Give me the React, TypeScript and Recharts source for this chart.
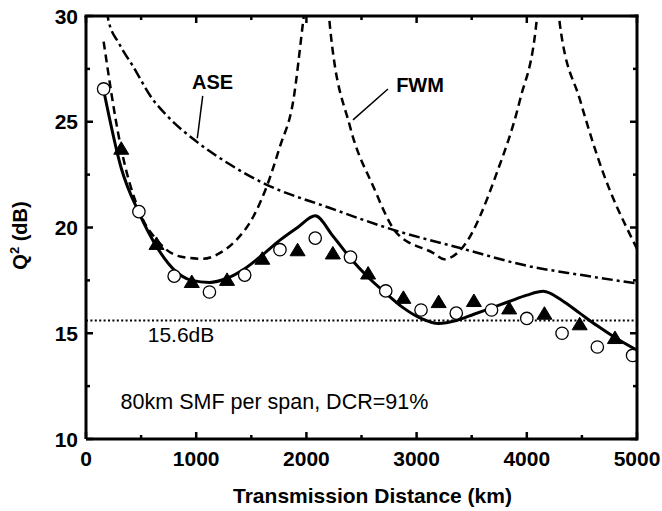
import React from "react";
import {
  ComposedChart,
  Line,
  XAxis,
  YAxis,
  ReferenceLine,
  ReferenceDot,
} from "recharts";

// ---- data ----
const circleX = [160, 480, 800, 1120, 1440, 1760, 2080, 2400, 2720, 3040, 3360, 3680, 4000, 4320, 4640, 4960];
const circleY = [26.55, 20.75, 17.7, 16.95, 17.75, 18.95, 19.5, 18.6, 17.0, 16.1, 15.95, 16.1, 15.7, 15.0, 14.35, 13.95];

const triX = [320, 640, 960, 1280, 1600, 1920, 2240, 2560, 2880, 3200, 3520, 3840, 4160, 4480, 4800];
const triY = [23.7, 19.2, 17.4, 17.5, 18.5, 18.9, 18.75, 17.8, 16.65, 16.45, 16.5, 16.15, 15.9, 15.4, 14.75];

const simX = [160, 320, 480, 640, 800, 960, 1120, 1280, 1440, 1600, 1760, 1920, 2080, 2240, 2400, 2560, 2720, 2880, 3040, 3200, 3360, 3520, 3680, 3840, 4000, 4150, 4320, 4480, 4640, 4800, 5000];
const simY = [26.5, 22.8, 20.7, 19.1, 18.0, 17.5, 17.4, 17.6, 18.05, 18.7, 19.4, 20.0, 20.55, 19.6, 18.55, 17.65, 16.9, 16.2, 15.7, 15.46, 15.6, 15.9, 16.2, 16.5, 16.8, 16.98, 16.55, 15.95, 15.35, 14.8, 14.2];

const fwm1X = [160, 309, 490, 641, 853, 1065, 1200, 1337, 1519, 1640, 1760, 1882, 1972, 2000];
const fwm1Y = [28.79, 23.99, 20.68, 19.42, 18.63, 18.52, 18.75, 19.27, 20.52, 21.94, 23.83, 26.03, 29.81, 31];
const fwm2X = [2190, 2214, 2396, 2607, 2819, 3153, 3250, 3424, 3727, 3938, 4090, 4110];
const fwm2Y = [31, 29.5, 24.77, 21.94, 19.74, 18.79, 18.5, 19.1, 22.57, 26.03, 29.81, 31];
const fwm3X = [4280, 4301, 4483, 4694, 4952, 5000];
const fwm3Y = [31, 29.57, 26.03, 22.57, 19.5, 19.0];

const aseX = [190, 203, 300, 429, 600, 732, 1004, 1300, 1609, 2214, 2789, 3394, 4029, 4500, 5000];
const aseY = [30.3, 29.81, 28.7, 27.6, 26.1, 25.3, 24.06, 23.0, 22.1, 20.92, 19.89, 19.03, 18.16, 17.75, 17.35];

const xTicks = [0, 500, 1000, 1500, 2000, 2500, 3000, 3500, 4000, 4500, 5000];
const yTicks = [10, 12.5, 15, 17.5, 20, 22.5, 25, 27.5, 30];
const xDomain = [0, 5000];
const yDomain = [10, 30];
const threshold = 15.6;

const zip = (xs: number[], ys: number[]) => xs.map((x, i) => ({ x, y: ys[i] }));
const circles = zip(circleX, circleY);
const tris = zip(triX, triY);
const sim = zip(simX, simY);
const fwm1 = zip(fwm1X, fwm1Y);
const fwm2 = zip(fwm2X, fwm2Y);
const fwm3 = zip(fwm3X, fwm3Y);
const ase = zip(aseX, aseY);

// ---- layout ----
const CHART_W = 662;
const CHART_H = 511;
const MARGIN = { top: 16, right: 25, left: 0, bottom: 0 };
const Y_AXIS_W = 86;
const X_AXIS_H = 72;
const PLOT_W = CHART_W - MARGIN.left - MARGIN.right - Y_AXIS_W;
const PLOT_H = CHART_H - MARGIN.top - MARGIN.bottom - X_AXIS_H;

const FONT = "'Liberation Sans', Arial, Helvetica, sans-serif";
const MAJ = 7;
const MIN = 4;

// bottom axis tick: inward tick at bottom and mirrored one at top, label, and the top/right frame edges
const BottomTick = (p: any) => {
  const v = p.payload.value;
  const major = v % 1000 === 0;
  const len = major ? MAJ : MIN;
  const top = p.y - PLOT_H;
  return (
    <g>
      <line x1={p.x} y1={p.y} x2={p.x} y2={p.y - len} stroke="#000" strokeWidth={2.5} />
      <line x1={p.x} y1={top} x2={p.x} y2={top + len} stroke="#000" strokeWidth={2.5} />
      {v === xDomain[0] && (
        <line x1={p.x - 1.5} y1={top} x2={p.x + PLOT_W + 1.5} y2={top} stroke="#000" strokeWidth={3} />
      )}
      {v === xDomain[1] && (
        <line x1={p.x} y1={top - 1.5} x2={p.x} y2={p.y + 1.5} stroke="#000" strokeWidth={3} />
      )}
      {major && (
        <text x={p.x} y={p.y + 27} textAnchor="middle" fontFamily={FONT} fontWeight="bold" fontSize={21} fill="#000">
          {v}
        </text>
      )}
    </g>
  );
};
// left axis tick: inward tick on the left and mirrored one on the right, label
const LeftTick = (p: any) => {
  const v = p.payload.value;
  const major = v % 5 === 0;
  const len = major ? MAJ : MIN;
  const right = p.x + PLOT_W;
  return (
    <g>
      <line x1={p.x} y1={p.y} x2={p.x + len} y2={p.y} stroke="#000" strokeWidth={2.5} />
      <line x1={right} y1={p.y} x2={right - len} y2={p.y} stroke="#000" strokeWidth={2.5} />
      {major && (
        <text x={p.x - 8} y={p.y + 7.5} textAnchor="end" fontFamily={FONT} fontWeight="bold" fontSize={21} fill="#000">
          {v}
        </text>
      )}
    </g>
  );
};

const XTitle = (p: any) => {
  const vb = p.viewBox || { x: 86, y: 439, width: 551, height: 72 };
  return (
    <text x={vb.x + vb.width / 2 + 11} y={vb.y + 64} textAnchor="middle" fontFamily={FONT} fontWeight="bold" fontSize={21} fill="#000">
      Transmission Distance (km)
    </text>
  );
};
const YTitle = (p: any) => {
  const vb = p.viewBox || { x: 0, y: 16, width: 86, height: 423 };
  const cx = vb.x + 27;
  const cy = vb.y + vb.height / 2 + 8;
  return (
    <text x={cx} y={cy} transform={`rotate(-90, ${cx}, ${cy})`} textAnchor="middle" fontFamily={FONT} fontWeight="bold" fontSize={20} fill="#000">
      Q
      <tspan dy={-8} fontSize={13}>2</tspan>
      <tspan dy={8}> (dB)</tspan>
    </text>
  );
};

const CircleDot = (p: any) =>
  p.cx == null ? <g key={p.key} /> : <circle key={p.key} cx={p.cx} cy={p.cy} r={6.2} fill="#fff" stroke="#000" strokeWidth={1.3} />;
const TriDot = (p: any) =>
  p.cx == null ? (
    <g key={p.key} />
  ) : (
    <polygon
      key={p.key}
      points={`${p.cx},${p.cy - 7.5} ${p.cx - 7.5},${p.cy + 5} ${p.cx + 7.5},${p.cy + 5}`}
      fill="#000"
      stroke="#000"
      strokeWidth={1}
    />
  );

const makeText = (txt: string, bold: boolean, size: number) => (p: any) => (
  <text x={p.cx} y={p.cy} dy="0.36em" textAnchor="middle" fontFamily={FONT} fontWeight={bold ? "bold" : "normal"} fontSize={size} fill="#000">
    {txt}
  </text>
);

export default function App() {
  return (
    <div style={{ position: "absolute", left: 0, top: 0, width: CHART_W, height: CHART_H }}>
      <ComposedChart width={CHART_W} height={CHART_H} margin={MARGIN}>
        <XAxis
          xAxisId="b"
          dataKey="x"
          type="number"
          domain={xDomain}
          ticks={xTicks}
          interval={0}
          allowDataOverflow
          height={X_AXIS_H}
          tickSize={0}
          tickMargin={0}
          tickLine={false}
          axisLine={{ stroke: "#000", strokeWidth: 3 }}
          tick={<BottomTick />}
          label={<XTitle />}
        />
        <YAxis
          yAxisId="l"
          type="number"
          domain={yDomain}
          ticks={yTicks}
          interval={0}
          allowDataOverflow
          width={Y_AXIS_W}
          tickSize={0}
          tickMargin={0}
          tickLine={false}
          axisLine={{ stroke: "#000", strokeWidth: 3 }}
          tick={<LeftTick />}
          label={<YTitle />}
        />

        <ReferenceLine xAxisId="b" yAxisId="l" y={threshold} stroke="#000" strokeWidth={2} strokeDasharray="2 2.4" />

        <Line xAxisId="b" yAxisId="l" data={ase} dataKey="y" type="monotone" stroke="#000" strokeWidth={2.5} strokeDasharray="11 4 3 4" dot={false} isAnimationActive={false} />
        <Line xAxisId="b" yAxisId="l" data={fwm1} dataKey="y" type="monotone" stroke="#000" strokeWidth={2.5} strokeDasharray="8 5" dot={false} isAnimationActive={false} />
        <Line xAxisId="b" yAxisId="l" data={fwm2} dataKey="y" type="monotone" stroke="#000" strokeWidth={2.5} strokeDasharray="8 5" dot={false} isAnimationActive={false} />
        <Line xAxisId="b" yAxisId="l" data={fwm3} dataKey="y" type="monotone" stroke="#000" strokeWidth={2.5} strokeDasharray="8 5" dot={false} isAnimationActive={false} />
        <Line xAxisId="b" yAxisId="l" data={sim} dataKey="y" type="monotone" stroke="#000" strokeWidth={3} dot={false} isAnimationActive={false} />

        <Line xAxisId="b" yAxisId="l" data={tris} dataKey="y" stroke="none" dot={TriDot} activeDot={false} isAnimationActive={false} />
        <Line xAxisId="b" yAxisId="l" data={circles} dataKey="y" stroke="none" dot={CircleDot} activeDot={false} isAnimationActive={false} />

        <ReferenceLine xAxisId="b" yAxisId="l" segment={[{ x: 1059, y: 26.22 }, { x: 1010, y: 24.22 }]} stroke="#000" strokeWidth={1.5} />
        <ReferenceLine xAxisId="b" yAxisId="l" segment={[{ x: 2740, y: 26.55 }, { x: 2423, y: 25.09 }]} stroke="#000" strokeWidth={1.5} />

        <ReferenceDot xAxisId="b" yAxisId="l" x={1148} y={26.9} r={0} shape={makeText("ASE", true, 20)} />
        <ReferenceDot xAxisId="b" yAxisId="l" x={3031} y={26.74} r={0} shape={makeText("FWM", true, 20)} />
        <ReferenceDot xAxisId="b" yAxisId="l" x={862} y={14.93} r={0} shape={makeText("15.6dB", false, 21)} />
        <ReferenceDot xAxisId="b" yAxisId="l" x={1710} y={11.79} r={0} shape={makeText("80km SMF per span, DCR=91%", false, 21.5)} />
      </ComposedChart>
    </div>
  );
}
